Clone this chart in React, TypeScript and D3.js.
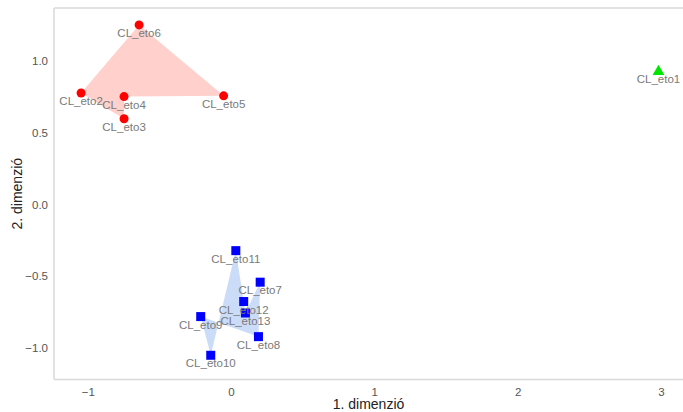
import React, { useEffect, useRef } from "react";
import * as d3 from "d3";

// cluster members (1. dimenzió, 2. dimenzió)
const names = [
  "CL_eto1", "CL_eto2", "CL_eto3", "CL_eto4", "CL_eto5", "CL_eto6", "CL_eto7",
  "CL_eto8", "CL_eto9", "CL_eto10", "CL_eto11", "CL_eto12", "CL_eto13",
];
const dim1 = [2.98, -1.05, -0.75, -0.75, -0.055, -0.645, 0.2, 0.188, -0.215, -0.145, 0.03, 0.085, 0.097];
const dim2 = [0.93, 0.78, 0.6, 0.755, 0.76, 1.255, -0.54, -0.92, -0.78, -1.05, -0.32, -0.675, -0.755];
const cluster = [1, 2, 2, 2, 2, 2, 3, 3, 3, 3, 3, 3, 3];

const xTicks = [-1, 0, 1, 2, 3];
const yTicks = [-1, -0.5, 0, 0.5, 1];

const colors: Record<number, string> = { 1: "#00e600", 2: "#ff0000", 3: "#0000ff" };
const fills: Record<number, string> = { 1: "#ccffcc", 2: "#ffd0cc", 3: "#cbdcf8" };

const App = () => {
  const ref = useRef<SVGSVGElement>(null);

  useEffect(() => {
    const width = 683;
    const height = 412;
    const left = 54, top = 8, right = 683, bottom = 379.5;

    const x = d3.scaleLinear().domain([-1.239, 3.151]).range([left, right]);
    const y = d3.scaleLinear().domain([-1.219, 1.373]).range([bottom, top]);

    const svg = d3.select(ref.current);
    svg.selectAll("*").remove();
    svg.attr("width", width).attr("height", height);

    const pts = names.map((n, i) => ({ name: n, x: dim1[i], y: dim2[i], c: cluster[i] }));

    // cluster polygons
    [2, 3].forEach((c) => {
      const members = pts.filter((p) => p.c === c);
      const line = d3
        .line<any>()
        .x((d) => x(d.x))
        .y((d) => y(d.y))
        .curve(d3.curveLinearClosed);
      svg
        .append("path")
        .datum(members)
        .attr("d", line)
        .attr("fill", fills[c])
        .attr("fill-rule", "evenodd")
        .attr("stroke", "none");
    });

    // panel border (left, top, bottom)
    const axisColor = "#d9d9d9";
    svg.append("line").attr("x1", left).attr("x2", left).attr("y1", top).attr("y2", bottom)
      .attr("stroke", axisColor).attr("stroke-width", 1.5);
    svg.append("line").attr("x1", left).attr("x2", right).attr("y1", top).attr("y2", top)
      .attr("stroke", axisColor).attr("stroke-width", 1.5);
    svg.append("line").attr("x1", left).attr("x2", right).attr("y1", bottom).attr("y2", bottom)
      .attr("stroke", axisColor).attr("stroke-width", 1.5);

    const font = "Liberation Sans, Arial, sans-serif";

    // tick labels
    svg.selectAll(".xt").data(xTicks).enter().append("text")
      .attr("x", (d) => x(d)).attr("y", bottom + 16)
      .attr("text-anchor", "middle").attr("font-family", font)
      .attr("font-size", 11.5).attr("fill", "#555")
      .text((d) => d3.format("d")(d));
    svg.selectAll(".yt").data(yTicks).enter().append("text")
      .attr("x", left - 6).attr("y", (d) => y(d) + 4)
      .attr("text-anchor", "end").attr("font-family", font)
      .attr("font-size", 11.5).attr("fill", "#555")
      .text((d) => d3.format(".1f")(d));

    // axis titles
    svg.append("text").attr("x", (left + right) / 2).attr("y", 409)
      .attr("text-anchor", "middle").attr("font-family", font)
      .attr("font-size", 14).attr("fill", "#222").text("1. dimenzió");
    svg.append("text")
      .attr("transform", `translate(22, ${(top + bottom) / 2}) rotate(-90)`)
      .attr("text-anchor", "middle").attr("font-family", font)
      .attr("font-size", 14).attr("fill", "#222").text("2. dimenzió");

    // points
    pts.forEach((p) => {
      const cx = x(p.x), cy = y(p.y);
      if (p.c === 1) {
        svg.append("path")
          .attr("d", d3.symbol().type(d3.symbolTriangle).size(60)())
          .attr("transform", `translate(${cx}, ${cy})`)
          .attr("fill", colors[1]);
      } else if (p.c === 2) {
        svg.append("circle").attr("cx", cx).attr("cy", cy).attr("r", 4.5).attr("fill", colors[2]);
      } else {
        svg.append("rect").attr("x", cx - 4.5).attr("y", cy - 4.5)
          .attr("width", 9).attr("height", 9).attr("fill", colors[3]);
      }
    });

    // labels
    svg.selectAll(".lbl").data(pts).enter().append("text")
      .attr("x", (d) => x(d.x)).attr("y", (d) => y(d.y) + 12)
      .attr("text-anchor", "middle").attr("font-family", font)
      .attr("font-size", 11.5).attr("fill", "#7a7a7a")
      .text((d) => d.name);
  }, []);

  return <svg ref={ref} style={{ position: "absolute", left: 0, top: 0 }}></svg>;
};

export default App;
